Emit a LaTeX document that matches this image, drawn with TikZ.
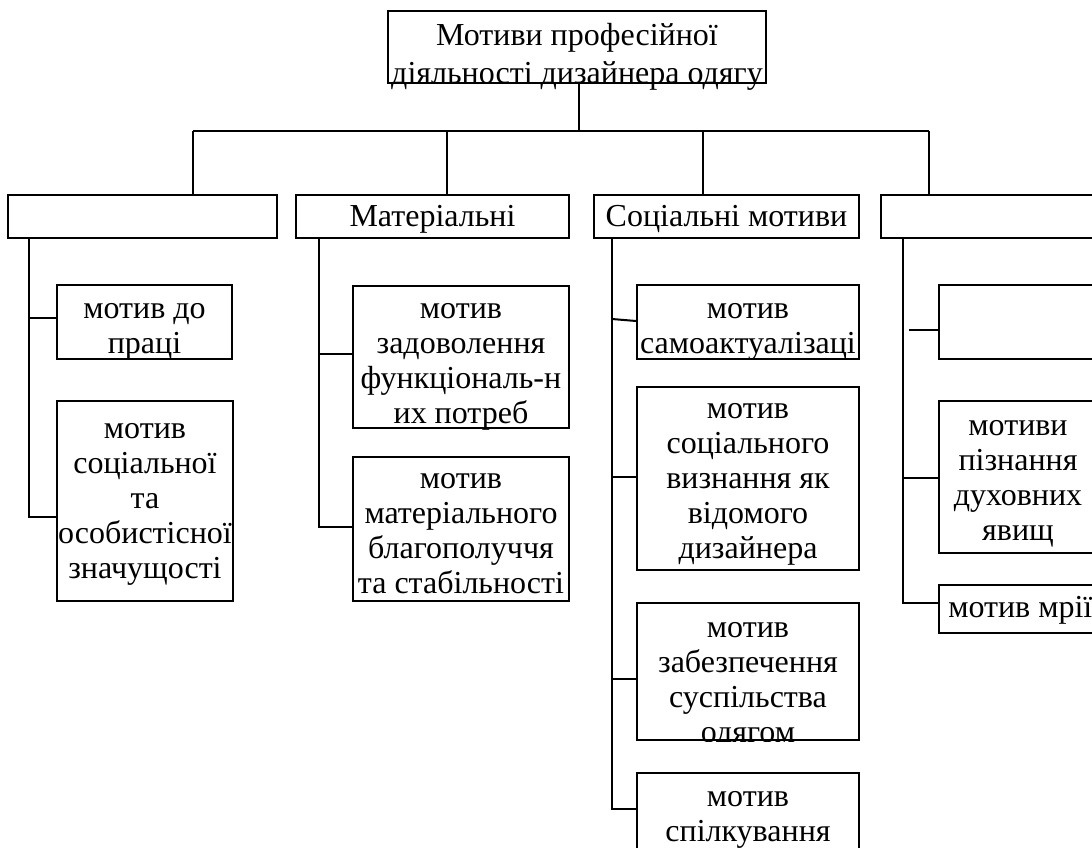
\documentclass[tikz,border=0pt]{standalone}
\usepackage{fontspec}
\setmainfont{Liberation Serif}
\usetikzlibrary{fit,calc}
\begin{document}
\begin{tikzpicture}[x=0.75pt,y=-0.75pt,
  box/.style={draw, line width=1.5pt, inner sep=0pt},
  conn/.style={line width=1.5pt},
  txt/.style={align=center, inner sep=0pt, font={\fontsize{24}{26.25}\selectfont}},
  toptxt/.style={align=center, inner sep=0pt, font={\fontsize{24}{29}\selectfont}}]
\clip (0,0) rectangle (1092,848);
\fill[white] (0,0) rectangle (1092,848);
% top
\node[box, fit={(388,11)(766,83)}] (top) {};
\node[toptxt] (ttop) at (577,57) {Мотиви професійної\\діяльності дизайнера одягу};
% level 1
\node[box, fit={(8,195)(277,238)}] (b1) {};
\node[box, fit={(296,195)(569,238)}] (b2) {};
\node[box, fit={(594,195)(859,238)}] (b3) {};
\node[box, fit={(881,195)(1110,238)}] (b4) {};
\node[txt] (tb2) at (432.5,219.5) {Матеріальні};
\node[txt] (tb3) at (726.5,219.5) {Соціальні мотиви};
% bus
\coordinate (hub) at (579,131);
\coordinate (d1) at (193,131);
\coordinate (d2) at (447,131);
\coordinate (d3) at (703,131);
\coordinate (d4) at (929,131);
\draw[conn] (hub |- top.south) -- (hub);
\draw[conn] (d1) -- (d4);
\draw[conn] (d1) -- (d1 |- b1.north);
\draw[conn] (d2) -- (d2 |- b2.north);
\draw[conn] (d3) -- (d3 |- b3.north);
\draw[conn] (d4) -- (d4 |- b4.north);
% column 1
\node[box, fit={(57,285)(232,359)}] (c11) {};
\node[box, fit={(57,401)(233,601)}] (c12) {};
\node[txt] (t11) at (144.5,332) {мотив до\\праці};
\node[txt] (t12) at (145,504) {мотив\\соціальної\\та\\особистісної\\значущості};
\coordinate (s1) at (29,0);
\draw[conn] (s1 |- b1.south) -- (29,517) -- (29,517 -| c12.west);
\draw[conn] (29,318) -- (29,318 -| c11.west);
% column 2
\node[box, fit={(353,286)(569,428)}] (c21) {};
\node[box, fit={(353,457)(569,601)}] (c22) {};
\node[txt] (t21) at (461,367) {мотив\\задоволення\\функціональ-н\\их потреб};
\node[txt] (t22) at (461,534) {мотив\\матеріального\\благополуччя\\та стабільності};
\coordinate (s2) at (319,0);
\draw[conn] (s2 |- b2.south) -- (319,527) -- (319,527 -| c22.west);
\draw[conn] (319,354) -- (319,354 -| c21.west);
% column 3
\node[box, fit={(637,285)(859,359)}] (c31) {};
\node[box, fit={(637,387)(859,570)}] (c32) {};
\node[box, fit={(637,603)(859,740)}] (c33) {};
\node[box, fit={(637,773)(859,870)}] (c34) {};
\node[txt] (t31) at (748,332) {мотив\\самоактуалізаці};
\node[txt] (t32) at (748,484) {мотив\\соціального\\визнання як\\відомого\\дизайнера};
\begin{scope}
\clip (c33.north west) rectangle (c33.south east);
\node[txt] (t33) at (748,686) {мотив\\забезпечення\\суспільства\\одягом};
\end{scope}
\node[txt] (t34) at (748,820) {мотив\\спілкування};
\coordinate (s3) at (612,0);
\draw[conn] (s3 |- b3.south) -- (612,809) -- (612,809 -| c34.west);
\draw[conn] (612,319) -- ($(c31.west)+(0,-1)$);
\draw[conn] (612,477) -- (612,477 -| c32.west);
\draw[conn] (612,679) -- (612,679 -| c33.west);
% column 4
\node[box, fit={(939,285)(1110,359)}] (c41) {};
\node[box, fit={(939,401)(1110,553)}] (c42) {};
\node[box, fit={(939,585)(1110,633)}] (c43) {};
\node[txt] (t42) at (1018,484) {мотиви\\пізнання\\духовних\\явищ};
\node[txt, anchor=west] (t43) at (948,610) {мотив мрії};
\coordinate (s4) at (903,0);
\draw[conn] (s4 |- b4.south) -- (903,603) -- (903,603 -| c43.west);
\draw[conn] (903,478) -- (903,478 -| c42.west);
\draw[conn] (909,330) -- (909,330 -| c41.west);
\end{tikzpicture}
\end{document}
